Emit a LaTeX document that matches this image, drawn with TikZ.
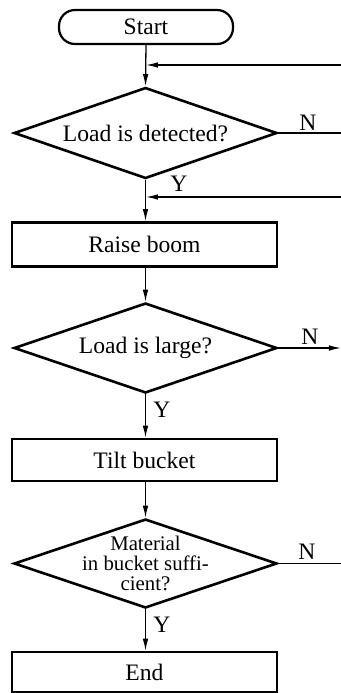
\documentclass[tikz,border=0pt]{standalone}
\usepackage{fontspec}
\setmainfont{Liberation Serif}
\usetikzlibrary{shapes.geometric,arrows.meta}
\begin{document}
\begin{tikzpicture}[x=0.5pt,y=-0.5pt,
  every node/.style={font=\fontsize{11.8}{13}\selectfont},
  boxnode/.style={draw,line width=1.3pt,minimum width=265*0.5pt,minimum height=44*0.5pt,inner sep=0pt},
  termnode/.style={draw,line width=1.1pt,rounded corners=8pt,minimum width=174*0.5pt,minimum height=34*0.5pt,inner sep=0pt},
  dianode/.style={draw,diamond,line width=1.3pt,minimum width=263*0.5pt,minimum height=91*0.5pt,inner sep=0pt},
  txt/.style={inner sep=0pt,align=center},
  lab/.style={inner sep=0pt},
  conn/.style={line width=0.65pt},
  arr/.style={conn,-{Latex[length=6pt,width=2.8pt]}}
]
\useasboundingbox (0,0) rectangle (341,693);
% nodes
\node[termnode] (start) at (146,27) {Start};
\node[dianode] (d1) at (145.5,133) {};
\node[txt] (t1) at (d1.center) {Load is detected?};
\node[boxnode] (raise) at (144.5,244.5) {Raise boom};
\node[dianode,minimum height=90*0.5pt] (d2) at (145.5,348) {};
\node[txt] (t2) at (d2.center) {Load is large?};
\node[boxnode,minimum height=42*0.5pt] (tilt) at (144.5,460) {Tilt bucket};
\node[dianode,minimum height=89*0.5pt] (d3) at (145.5,563.5) {};
\node[txt,font=\fontsize{10.4}{10}\selectfont] (t3) at (d3.center) {Material\\in bucket suffi-\\cient?};
\node[boxnode,minimum height=40*0.5pt] (endn) at (144.5,672) {End};
% labels
\node[lab] (n1) at (308,123) {N};
\node[lab] (y1) at (179,184) {Y};
\node[lab] (n2) at (310,337) {N};
\node[lab] (y2) at (162,410) {Y};
\node[lab] (n3) at (307,552) {N};
\node[lab] (y3) at (162,625) {Y};
% coordinates
\coordinate (m1) at (146,65);
\coordinate (r1) at (341,65);
\coordinate (m2) at (146,197);
\coordinate (r2) at (341,197);
\coordinate (e1) at (341,133);
\coordinate (e2) at (341,348);
\coordinate (e3) at (341,563.5);
% connectors
\draw[arr] (start.south -| m1) -- (d1.north);
\draw[arr] (r1) -- (m1);
\draw[conn] (d1.east) -- (e1);
\draw[arr] (d1.south) -- (d1.south |- raise.north);
\draw[arr] (r2) -- (m2);
\draw[arr] (raise.south -| d2.north) -- (d2.north);
\draw[arr] (d2.east) -- (e2);
\draw[arr] (d2.south) -- (d2.south |- tilt.north);
\draw[arr] (tilt.south -| d3.north) -- (d3.north);
\draw[conn] (d3.east) -- (e3);
\draw[arr] (d3.south) -- (d3.south |- endn.north);
\end{tikzpicture}
\end{document}
